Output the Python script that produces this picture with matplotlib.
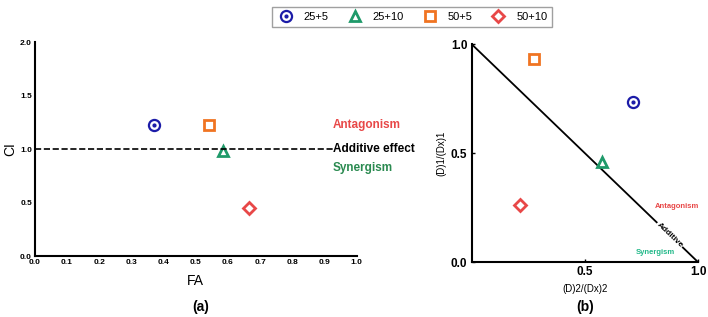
import numpy as np
import matplotlib
matplotlib.use("Agg")
import matplotlib.pyplot as plt
from matplotlib.lines import Line2D

plt.rcParams['font.family'] = ['Liberation Sans', 'DejaVu Sans']
plt.rcParams['font.weight'] = 'bold'

# combinations
combos = ['25+5', '25+10', '50+5', '50+10']
colors = ['#1c1ca8', '#1f9a6a', '#f07422', '#e84848']
markers = ['o', '^', 's', 'D']

# panel (a): fraction affected vs combination index
fa = [0.37, 0.585, 0.54, 0.665]
ci = [1.23, 0.98, 1.23, 0.45]

# panel (b): normalized isobologram
d2 = [0.713, 0.574, 0.275, 0.216]
d1 = [0.736, 0.461, 0.931, 0.26]

fig = plt.figure(figsize=(7.08, 3.17), dpi=100)

# ---- (a)
ax = fig.add_axes([0.049, 0.192, 0.455, 0.675])
for x, y, c, m in zip(fa, ci, colors, markers):
    if m == 'o':
        ax.plot(x, y, 'o', ms=8, mfc='none', mec=c, mew=1.6)
        ax.plot(x, y, 'o', ms=2, color=c)
    else:
        ax.plot(x, y, m, ms=7 if m != 'D' else 6, mfc='none', mec=c, mew=2)
ax.plot([0, 0.925], [1, 1], 'k--', lw=1.2)
ax.text(0.925, 1.23, 'Antagonism', color='#e84848', fontsize=8.5, va='center', clip_on=False)
ax.text(0.925, 1.0, 'Additive effect', color='black', fontsize=8.5, va='center', clip_on=False)
ax.text(0.925, 0.82, 'Synergism', color='#2a8a50', fontsize=8.5, va='center', clip_on=False)
ax.set_xlim(0, 1.0)
ax.set_ylim(0, 2.0)
ax.set_xticks(np.arange(0, 1.01, 0.1))
ax.set_yticks(np.arange(0, 2.01, 0.5))
ax.xaxis.set_major_formatter(matplotlib.ticker.FormatStrFormatter('%.1f'))
ax.yaxis.set_major_formatter(matplotlib.ticker.FormatStrFormatter('%.1f'))
ax.tick_params(length=0, labelsize=6, pad=2)
for s in ['top', 'right']:
    ax.spines[s].set_visible(False)
for s in ['left', 'bottom']:
    ax.spines[s].set_linewidth(1.5)
ax.set_xlabel('FA', fontsize=10, labelpad=6)
ax.set_ylabel('CI', fontsize=10, labelpad=2)
fig.text(0.283, 0.02, '(a)', ha='center', fontsize=10)

# ---- (b)
bx = fig.add_axes([0.666, 0.173, 0.32, 0.688])
bx.plot([0, 1], [1, 0], 'k-', lw=1.3)
for x, y, c, m in zip(d2, d1, colors, markers):
    if m == 'o':
        bx.plot(x, y, 'o', ms=8, mfc='none', mec=c, mew=1.6)
        bx.plot(x, y, 'o', ms=2, color=c)
    else:
        bx.plot(x, y, m, ms=7 if m != 'D' else 6, mfc='none', mec=c, mew=2)
bx.text(0.875, 0.125, 'Additive', fontsize=6, rotation=-43.5, ha='center', va='center',
        bbox=dict(facecolor='white', edgecolor='none', pad=0.5))
bx.text(0.905, 0.255, 'Antagonism', color='#e84848', fontsize=5.5, ha='center', va='center')
bx.text(0.81, 0.045, 'Synergism', color='#20b888', fontsize=5.5, ha='center', va='center')
bx.set_xlim(0, 1.0)
bx.set_ylim(0, 1.0)
bx.set_xticks([0.5, 1.0])
bx.set_yticks([0.0, 0.5, 1.0])
bx.xaxis.set_major_formatter(matplotlib.ticker.FormatStrFormatter('%.1f'))
bx.yaxis.set_major_formatter(matplotlib.ticker.FormatStrFormatter('%.1f'))
bx.tick_params(direction='in', length=2, width=1, labelsize=8.5, pad=3)
for s in ['top', 'right']:
    bx.spines[s].set_visible(False)
for s in ['left', 'bottom']:
    bx.spines[s].set_linewidth(1.5)
bx.set_xlabel('(D)2/(Dx)2', fontsize=7, labelpad=4)
bx.set_ylabel('(D)1/(Dx)1', fontsize=7, labelpad=3)
fig.text(0.826, 0.02, '(b)', ha='center', fontsize=10)

# ---- legend
handles = []
for c, m, lab in zip(colors, markers, combos):
    if m == 'o':
        h = (Line2D([], [], ls='none', marker='o', ms=8, mfc='none', mec=c, mew=1.6),
             Line2D([], [], ls='none', marker='o', ms=2, color=c))
    else:
        h = Line2D([], [], ls='none', marker=m, ms=7 if m != 'D' else 6, mfc='none', mec=c, mew=2)
    handles.append(h)
leg = fig.legend(handles, combos, loc='upper left', bbox_to_anchor=(0.376, 0.995), ncol=4,
                 frameon=True, fancybox=False, fontsize=8, handletextpad=0.8, columnspacing=1.55,
                 handlelength=1.6, borderpad=0.45)
leg.get_frame().set_edgecolor('#888888')
for t in leg.get_texts():
    t.set_fontweight('normal')

fig.savefig('out.png', dpi=100)
